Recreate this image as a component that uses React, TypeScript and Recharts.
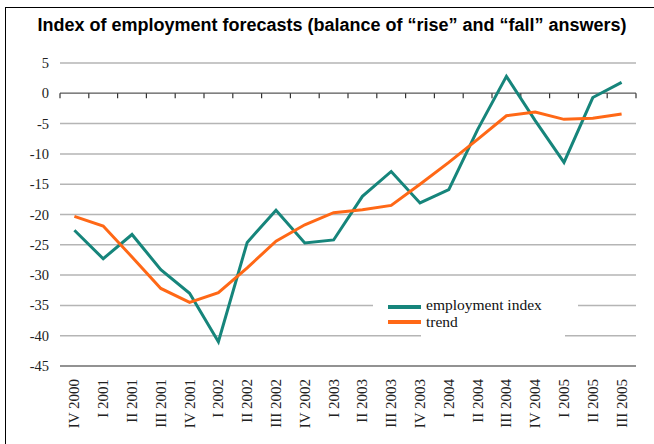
import { LineChart, Line, XAxis, YAxis, CartesianGrid, ReferenceLine } from 'recharts'

const quarters = [
  'IV 2000', 'I 2001', 'II 2001', 'III 2001', 'IV 2001', 'I 2002', 'II 2002',
  'III 2002', 'IV 2002', 'I 2003', 'II 2003', 'III 2003', 'IV 2003', 'I 2004',
  'II 2004', 'III 2004', 'IV 2004', 'I 2005', 'II 2005', 'III 2005',
]
const employmentIndex = [
  -22.6, -27.3, -23.3, -29.1, -33.0, -41.0, -24.6, -19.3, -24.7, -24.2,
  -17.0, -12.9, -18.1, -15.9, -6.0, 2.8, -4.5, -11.4, -0.7, 1.8,
]
const trend = [
  -20.3, -21.9, -27.0, -32.2, -34.5, -32.9, -28.8, -24.4, -21.7, -19.7,
  -19.2, -18.5, -15.0, -11.4, -7.6, -3.7, -3.1, -4.3, -4.1, -3.4,
]
const yTicks = [5, 0, -5, -10, -15, -20, -25, -30, -35, -40, -45]

const data = quarters.map((q, i) => ({ q, index: employmentIndex[i], trend: trend[i] }))

const TEAL = '#16857b'
const ORANGE = '#ff6816'
const SERIF = '"Liberation Serif", "DejaVu Serif", serif'

function QuarterTick(props: any) {
  const { x, y, payload } = props
  return (
    <text
      transform={`translate(${x + 5}, ${y + 11}) rotate(-90)`}
      textAnchor="end"
      fontFamily={SERIF}
      fontSize={15}
      fill="#222"
    >
      {payload.value}
    </text>
  )
}

function ValueTick(props: any) {
  const { x, y, payload } = props
  return (
    <text x={x} y={y + 5} textAnchor="end" fontFamily={SERIF} fontSize={14.5} fill="#222">
      {payload.value}
    </text>
  )
}

// zero line with small ticks at the category boundaries
function ZeroAxis(props: any) {
  const { x1, y1, x2 } = props
  const n = quarters.length
  const step = (x2 - x1) / n
  return (
    <g>
      <line x1={x1} y1={y1} x2={x2} y2={y1} stroke="#808080" strokeWidth={1.5} />
      {Array.from({ length: n + 1 }, (_, i) => (
        <line key={i} x1={x1 + i * step} y1={y1} x2={x1 + i * step} y2={y1 + 5} stroke="#333" strokeWidth={1.2} />
      ))}
    </g>
  )
}

function LegendBox() {
  return (
    <div style={{ position: 'absolute', left: 373, top: 298, width: 205, height: 40, fontFamily: SERIF, fontSize: 15.5, color: '#111' }}>
      <div style={{ position: 'absolute', left: 0, top: 0, width: 205, height: 16, background: '#fff' }} />
      <div style={{ position: 'absolute', left: 48, top: 14, width: 144, height: 26, background: '#fff' }} />
      <div style={{ position: 'absolute', left: 15, top: 7, width: 33, height: 4, background: TEAL }} />
      <div style={{ position: 'absolute', left: 15, top: 22, width: 33, height: 4, background: ORANGE }} />
      <div style={{ position: 'absolute', left: 53, top: -1, lineHeight: '16px', whiteSpace: 'nowrap' }}>employment index</div>
      <div style={{ position: 'absolute', left: 53, top: 16, lineHeight: '16px', whiteSpace: 'nowrap' }}>trend</div>
    </div>
  )
}

export default function App() {
  return (
    <div style={{ position: 'absolute', left: 0, top: 0, width: 654, height: 444, background: '#fff', overflow: 'hidden' }}>
      <div style={{ position: 'absolute', left: 5, top: 7, width: 660, height: 450, borderTop: '1.5px solid #000', borderLeft: '1.5px solid #000' }} />
      <div
        style={{
          position: 'absolute', left: 10, top: 15, width: 644, textAlign: 'center',
          fontFamily: '"Liberation Sans", Arial, sans-serif', fontWeight: 'bold', fontSize: 18, color: '#000',
        }}
      >
        Index of employment forecasts (balance of “rise” and “fall” answers)
      </div>
      <LineChart width={654} height={444} data={data} margin={{ top: 63, right: 18, bottom: 8, left: 8 }}>
        <CartesianGrid vertical={false} stroke="#b5b5b5" strokeWidth={1.5} />
        <XAxis
          dataKey="q"
          scale="band"
          interval={0}
          height={70}
          tick={<QuarterTick />}
          tickLine={false}
          tickSize={0}
          axisLine={{ stroke: '#808080', strokeWidth: 1.5 }}
        />
        <YAxis
          domain={[-45, 5]}
          ticks={yTicks}
          width={52}
          axisLine={false}
          tickLine={false}
          tickSize={0}
          tickMargin={11}
          tick={<ValueTick />}
        />
        <ReferenceLine y={0} shape={<ZeroAxis />} />
        <Line type="linear" dataKey="index" name="employment index" stroke={TEAL} strokeWidth={3} dot={false} isAnimationActive={false} />
        <Line type="linear" dataKey="trend" name="trend" stroke={ORANGE} strokeWidth={3} dot={false} isAnimationActive={false} />
      </LineChart>
      <LegendBox />
    </div>
  )
}
